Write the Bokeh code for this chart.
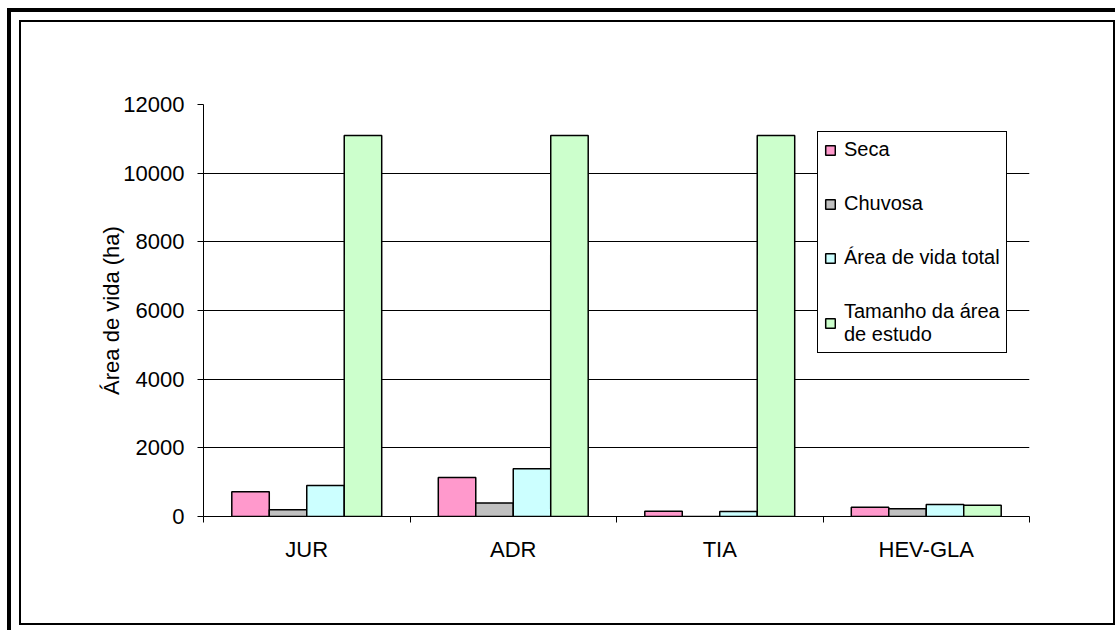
from bokeh.plotting import figure
from bokeh.models import (ColumnDataSource, FixedTicker, Legend, LegendItem, Range1d)
from bokeh.transform import dodge
from bokeh.embed import file_html
from bokeh.resources import INLINE

# ---- data ----
categories = ["JUR", "ADR", "TIA", "HEV-GLA"]
seca = [720, 1135, 155, 270]
chuvosa = [195, 390, 0, 225]
area_total = [905, 1390, 145, 350]
tamanho_area = [11100, 11100, 11100, 330]
y_ticks = [0, 2000, 4000, 6000, 8000, 10000, 12000]

series_names = ["Seca", "Chuvosa", "Área de vida total", "Tamanho da área\nde estudo"]
series_colors = ["#FF99CC", "#C0C0C0", "#CCFFFF", "#CCFFCC"]

FONT = "Liberation Sans"

xc = [i + 0.5 for i in range(len(categories))]
src = ColumnDataSource(dict(x=xc, seca=seca, chuvosa=chuvosa,
                            total=area_total, tamanho=tamanho_area))
cols = ["seca", "chuvosa", "total", "tamanho"]

p = figure(width=1092, height=601, output_backend="svg", toolbar_location=None,
           x_range=Range1d(0, len(categories)), y_range=Range1d(0, 12000),
           min_border_left=182, min_border_right=84, min_border_top=82,
           min_border_bottom=107)
p.outline_line_color = None
p.background_fill_color = "white"
p.border_fill_color = "white"
# chart frames (thin inner frame + thick outer frame), drawn by CSS around the canvas
p.styles = {
    "position": "relative",
    "left": "21px",
    "top": "22px",
    "outline": "2px solid black",
    "box-shadow": "0 0 0 10px white, 0 0 0 14px black",
}

bw = 0.1815
offsets = [-1.5 * bw, -0.5 * bw, 0.5 * bw, 1.5 * bw]
renderers = []
for col, off, color in zip(cols, offsets, series_colors):
    r = p.vbar(x=dodge("x", off, range=p.x_range), top=col, width=bw, bottom=0,
               source=src, fill_color=color, line_color="black", line_width=1.5)
    renderers.append(r)

# grid
p.xgrid.visible = False
p.ygrid.ticker = FixedTicker(ticks=y_ticks)
p.ygrid.grid_line_color = "black"
p.ygrid.grid_line_width = 1

# y axis
ya = p.yaxis[0]
ya.ticker = FixedTicker(ticks=y_ticks)
ya.axis_line_color = "black"
ya.major_tick_line_color = "black"
ya.major_tick_out = 6
ya.major_tick_in = 0
ya.minor_tick_line_color = None
ya.major_label_text_font = FONT
ya.major_label_text_font_size = "22px"
ya.major_label_text_color = "black"
ya.major_label_standoff = 13
ya.axis_label = "Área de vida (ha)"
ya.axis_label_text_font = FONT
ya.axis_label_text_font_size = "22px"
ya.axis_label_text_font_style = "normal"
ya.axis_label_text_color = "black"
ya.axis_label_standoff = -4

# x axis
xa = p.xaxis[0]
xa.ticker = FixedTicker(ticks=xc, minor_ticks=list(range(len(categories) + 1)))
xa.major_label_overrides = {x: c for x, c in zip(xc, categories)}
xa.axis_line_color = "black"
xa.major_tick_out = 0
xa.major_tick_in = 0
xa.major_tick_line_color = None
xa.minor_tick_out = 6
xa.minor_tick_in = 0
xa.minor_tick_line_color = "black"
xa.major_label_text_font = FONT
xa.major_label_text_font_size = "22px"
xa.major_label_text_color = "black"
xa.major_label_standoff = 14

# legend
items = [LegendItem(label=n, renderers=[r]) for n, r in zip(series_names, renderers)]
legend = Legend(items=items, location=(614, 163))
legend.border_line_color = "black"
legend.border_line_alpha = 1
legend.border_line_width = 1
legend.background_fill_color = "white"
legend.background_fill_alpha = 1
legend.padding = 6
legend.margin = 0
legend.spacing = 31
legend.glyph_width = 12
legend.glyph_height = 12
legend.label_standoff = 8
legend.label_text_font = FONT
legend.label_text_font_size = "20px"
legend.label_text_color = "black"
legend.label_text_line_height = 1.05
p.add_layout(legend)

open("out.html", "w").write(file_html(p, INLINE))
